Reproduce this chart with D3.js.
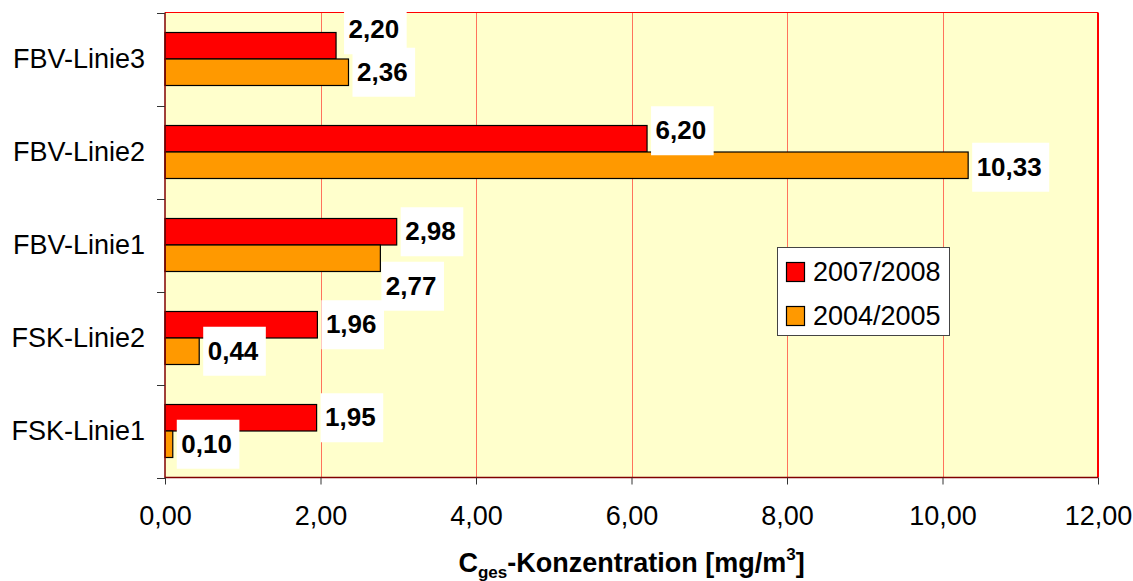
<!DOCTYPE html>
<html>
<head>
<meta charset="utf-8">
<script src="https://cdn.jsdelivr.net/npm/d3@7"></script>
<style>
  html, body { margin: 0; padding: 0; background: #fff; }
  svg { display: block; font-family: Arial, "Liberation Sans", sans-serif; }
</style>
</head>
<body>
<svg id="chart" width="1133" height="581"></svg>
<script>
// Categories, top to bottom
const categories = ["FBV-Linie3", "FBV-Linie2", "FBV-Linie1", "FSK-Linie2", "FSK-Linie1"];
const seriesNames = ["2007/2008", "2004/2005"];
const values2007 = [2.20, 6.20, 2.98, 1.96, 1.95];
const values2004 = [2.36, 10.33, 2.77, 0.44, 0.10];
const xTickValues = [0, 2, 4, 6, 8, 10, 12];
const seriesColors = ["#ff0000", "#ff9900"];

// Manual label nudges [dx, dy] to keep value labels from colliding
const labelNudge2007 = [[4, -16], [0, -8], [0, 0], [0, 0], [0, 0]];
const labelNudge2004 = [[0, 0], [0, 2], [-3, 28], [0, 0], [0, 0]];

const svg = d3.select("#chart");
const plot = { left: 165, right: 1098, top: 12.5, bottom: 477.5 };

const x = d3.scaleLinear().domain([0, 12]).range([plot.left, plot.right]);
const y = d3.scaleBand().domain(categories).range([plot.top, plot.bottom]).paddingInner(0).paddingOuter(0);
const ySub = d3.scaleBand().domain(seriesNames).range([0, y.bandwidth()]).paddingInner(0).paddingOuter(0.755);

const fmt = v => d3.format(".2f")(v).replace(".", ",");

// Plot background
svg.append("rect")
  .attr("x", plot.left).attr("y", plot.top)
  .attr("width", plot.right - plot.left).attr("height", plot.bottom - plot.top)
  .attr("fill", "#ffffcc");

// Vertical gridlines
svg.append("g").selectAll("line")
  .data(xTickValues.filter(t => t > 0 && t < 12))
  .join("line")
  .attr("x1", d => Math.round(x(d)) + 0.5).attr("x2", d => Math.round(x(d)) + 0.5)
  .attr("y1", plot.top).attr("y2", plot.bottom)
  .attr("stroke", "#ff0000").attr("stroke-opacity", 0.55).attr("stroke-width", 1);

// Bars
const seriesData = [values2007, values2004];
seriesNames.forEach((name, si) => {
  svg.append("g").selectAll("rect")
    .data(categories.map((c, i) => ({ c, v: seriesData[si][i] })))
    .join("rect")
    .attr("x", x(0))
    .attr("y", d => y(d.c) + ySub(name))
    .attr("width", d => x(d.v) - x(0))
    .attr("height", ySub.bandwidth())
    .attr("fill", seriesColors[si])
    .attr("stroke", "#000").attr("stroke-width", 1.2);
});

// Plot border: red top/right, dark red axes
svg.append("line").attr("x1", plot.left).attr("x2", plot.right).attr("y1", plot.top).attr("y2", plot.top)
  .attr("stroke", "#ff0000").attr("stroke-width", 1.2);
svg.append("line").attr("x1", plot.right).attr("x2", plot.right).attr("y1", plot.top).attr("y2", plot.bottom)
  .attr("stroke", "#ff0000").attr("stroke-width", 2);
svg.append("line").attr("x1", plot.left).attr("x2", plot.left).attr("y1", plot.top).attr("y2", plot.bottom + 0.5)
  .attr("stroke", "#800000").attr("stroke-width", 1.5);
svg.append("line").attr("x1", plot.left).attr("x2", plot.right).attr("y1", plot.bottom).attr("y2", plot.bottom)
  .attr("stroke", "#800000").attr("stroke-width", 1.5);

// X axis
const xAxis = svg.append("g")
  .attr("transform", `translate(0,${plot.bottom})`)
  .call(d3.axisBottom(x).tickValues(xTickValues).tickFormat(fmt).tickSize(7).tickPadding(21));
xAxis.select(".domain").remove();
xAxis.selectAll(".tick line").attr("stroke", "#333");
xAxis.selectAll(".tick text")
  .attr("font-size", 27).attr("fill", "#000")
  .attr("font-family", "Arial, 'Liberation Sans', sans-serif");

// Y axis: ticks at category boundaries, labels centered in bands
const yBounds = categories.map(c => y(c)).concat([plot.bottom]);
svg.append("g").selectAll("line")
  .data(yBounds)
  .join("line")
  .attr("x1", plot.left - 8).attr("x2", plot.left)
  .attr("y1", d => Math.round(d) + 0.5).attr("y2", d => Math.round(d) + 0.5)
  .attr("stroke", "#333").attr("stroke-width", 1);
svg.append("g").selectAll("text")
  .data(categories)
  .join("text")
  .attr("x", 145)
  .attr("y", d => y(d) + y.bandwidth() / 2 + 8.5)
  .attr("text-anchor", "end")
  .attr("font-size", 27)
  .attr("fill", "#000")
  .text(d => d);

// Axis title with subscript and superscript
const title = svg.append("text")
  .attr("x", (plot.left + plot.right) / 2)
  .attr("y", 572)
  .attr("text-anchor", "middle")
  .attr("font-size", 27)
  .attr("font-weight", "bold")
  .attr("fill", "#000");
title.append("tspan").text("C");
title.append("tspan").attr("font-size", 17).attr("dy", 6).text("ges");
title.append("tspan").attr("dy", -6).text("-Konzentration [mg/m");
title.append("tspan").attr("font-size", 17).attr("dy", -12).text("3");
title.append("tspan").attr("dy", 12).text("]");

// Legend
const legend = svg.append("g");
legend.append("rect")
  .attr("x", 777.5).attr("y", 247.5).attr("width", 172).attr("height", 88)
  .attr("fill", "#fff").attr("stroke", "#444").attr("stroke-width", 1);
seriesNames.forEach((name, i) => {
  const cy = 272 + i * 44;
  legend.append("rect")
    .attr("x", 786.5).attr("y", cy - 9.5).attr("width", 18).attr("height", 19)
    .attr("fill", seriesColors[i]).attr("stroke", "#000").attr("stroke-width", 1.2);
  legend.append("text")
    .attr("x", 813).attr("y", cy + 9)
    .attr("font-size", 27).attr("fill", "#000")
    .text(name);
});

// Value labels on white boxes
const labelLayer = svg.append("g");
const nudges = [labelNudge2007, labelNudge2004];
seriesNames.forEach((name, si) => {
  categories.forEach((c, i) => {
    const v = seriesData[si][i];
    const [dx, dy] = nudges[si][i];
    const tx = x(v) + 8.5 + dx;
    const ty = y(c) + ySub(name) + ySub.bandwidth() / 2 + 8.5 + dy;
    const g = labelLayer.append("g");
    const t = g.append("text")
      .attr("x", tx).attr("y", ty)
      .attr("font-size", 26).attr("font-weight", "bold").attr("fill", "#000")
      .text(fmt(v));
    const w = t.node().getComputedTextLength();
    g.insert("rect", "text")
      .attr("x", tx - 4.5).attr("y", ty - 33)
      .attr("width", w + 12).attr("height", 49)
      .attr("fill", "#fff");
  });
});
</script>
</body>
</html>
